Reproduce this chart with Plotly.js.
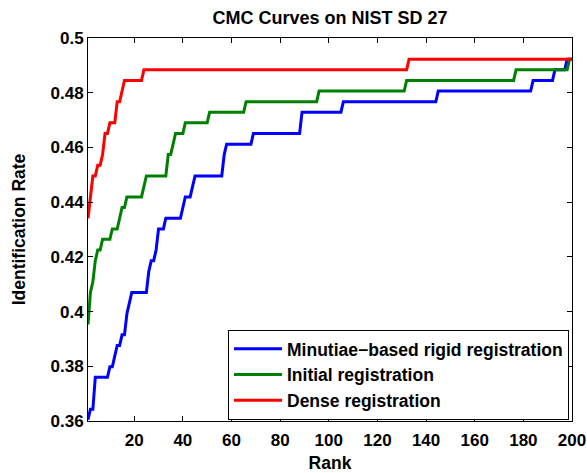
<!DOCTYPE html>
<html>
<head>
<meta charset="utf-8">
<script src="https://cdn.plot.ly/plotly-3.0.1.min.js"></script>
<style>
html,body{margin:0;padding:0;background:#fff;}
#chart{width:587px;height:473px;}
</style>
</head>
<body>
<div id="chart"></div>
<script>
// Series names
const seriesNames = ["Minutiae\u2212based rigid registration", "Initial registration", "Dense registration"];
const seriesColors = ["#0000ff", "#008000", "#ff0000"];

// Minutiae-based rigid registration (ranks where the curve changes, and values)
const blueRank = [1,2,3,4,9,10,11,12,13,14,15,16,17,18,19,25,26,27,28,29,30,32,33,39,40,41,43,44,45,56,57,58,68,69,88,89,105,106,144,145,183,184,192,193,197,198,200];
const blueRate = [0.3605,0.3643,0.3643,0.3760,0.3760,0.3798,0.3798,0.3837,0.3876,0.3876,0.3915,0.3915,0.3992,0.4031,0.4070,0.4070,0.4147,0.4186,0.4186,0.4225,0.4302,0.4302,0.4341,0.4341,0.4380,0.4419,0.4419,0.4457,0.4496,0.4496,0.4574,0.4612,0.4612,0.4651,0.4651,0.4729,0.4729,0.4767,0.4767,0.4806,0.4806,0.4845,0.4845,0.4884,0.4884,0.4922,0.4922];

// Initial registration
const greenRank = [1,2,3,4,5,6,7,10,11,13,14,15,16,17,23,24,25,33,34,35,36,37,40,41,50,51,65,66,95,96,131,132,176,177,198,199,200];
const greenRate = [0.3953,0.4070,0.4109,0.4186,0.4225,0.4225,0.4264,0.4264,0.4302,0.4302,0.4341,0.4380,0.4380,0.4419,0.4419,0.4457,0.4496,0.4496,0.4574,0.4574,0.4612,0.4651,0.4651,0.4690,0.4690,0.4729,0.4729,0.4767,0.4767,0.4806,0.4806,0.4845,0.4845,0.4884,0.4884,0.4922,0.4922];

// Dense registration
const redRank = [1,2,3,4,5,6,7,8,9,10,12,13,14,15,16,23,24,132,133,200];
const redRate = [0.4341,0.4419,0.4496,0.4496,0.4535,0.4535,0.4574,0.4651,0.4651,0.4690,0.4690,0.4767,0.4767,0.4806,0.4845,0.4845,0.4884,0.4884,0.4922,0.4922];

// Axis ticks
const xTickVals = [20,40,60,80,100,120,140,160,180,200];
const yTickVals = [0.36,0.38,0.40,0.42,0.44,0.46,0.48,0.50];
const yTickText = ["0.36","0.38","0.4","0.42","0.44","0.46","0.48","0.5"];

const ranks = [blueRank, greenRank, redRank];
const rates = [blueRate, greenRate, redRate];

const FONT = '"Liberation Sans", Arial, Helvetica, sans-serif';

const traces = ranks.map((r, i) => ({
  type: 'scatter',
  mode: 'lines',
  x: r,
  y: rates[i],
  name: seriesNames[i],
  line: {color: seriesColors[i], width: 3},
  hoverinfo: 'skip'
}));

const axisCommon = {
  showline: true,
  linecolor: '#000',
  linewidth: 1,
  mirror: 'ticks',
  ticks: 'inside',
  ticklen: 5,
  tickwidth: 1,
  tickcolor: '#000',
  showgrid: false,
  zeroline: false,
  tickfont: {family: FONT, size: 17, color: '#000', weight: 'bold'}
};

const layout = {
  width: 587,
  height: 473,
  paper_bgcolor: '#fff',
  plot_bgcolor: '#fff',
  margin: {l: 88, r: 15, t: 38, b: 52},
  showlegend: true,
  title: {
    text: 'CMC Curves on NIST SD 27',
    font: {family: FONT, size: 18, color: '#000', weight: 'bold'},
    x: 0.5, xref: 'paper', xanchor: 'center',
    y: 1 - 18/473, yref: 'container', yanchor: 'middle'
  },
  xaxis: Object.assign({}, axisCommon, {
    range: [1, 200],
    tickvals: xTickVals,
    ticktext: xTickVals.map(String),
    ticklabelstandoff: 4,
    title: {text: 'Rank', font: {family: FONT, size: 17.5, color: '#000', weight: 'bold'}, standoff: 9}
  }),
  yaxis: Object.assign({}, axisCommon, {
    range: [0.36, 0.5],
    tickvals: yTickVals,
    ticktext: yTickText,
    title: {text: 'Identification Rate', font: {family: FONT, size: 17.5, color: '#000', weight: 'bold'}, standoff: 20}
  }),
  legend: {
    x: 0.9938, xanchor: 'right',
    y: 0.003, yanchor: 'bottom',
    bgcolor: '#fff',
    bordercolor: '#000',
    borderwidth: 1,
    font: {family: FONT, size: 17.5, color: '#000', weight: 'bold'},
    tracegroupgap: 0,
    itemwidth: 48
  }
};

Plotly.newPlot('chart', traces, layout, {staticPlot: true, displayModeBar: false});
</script>
</body>
</html>
